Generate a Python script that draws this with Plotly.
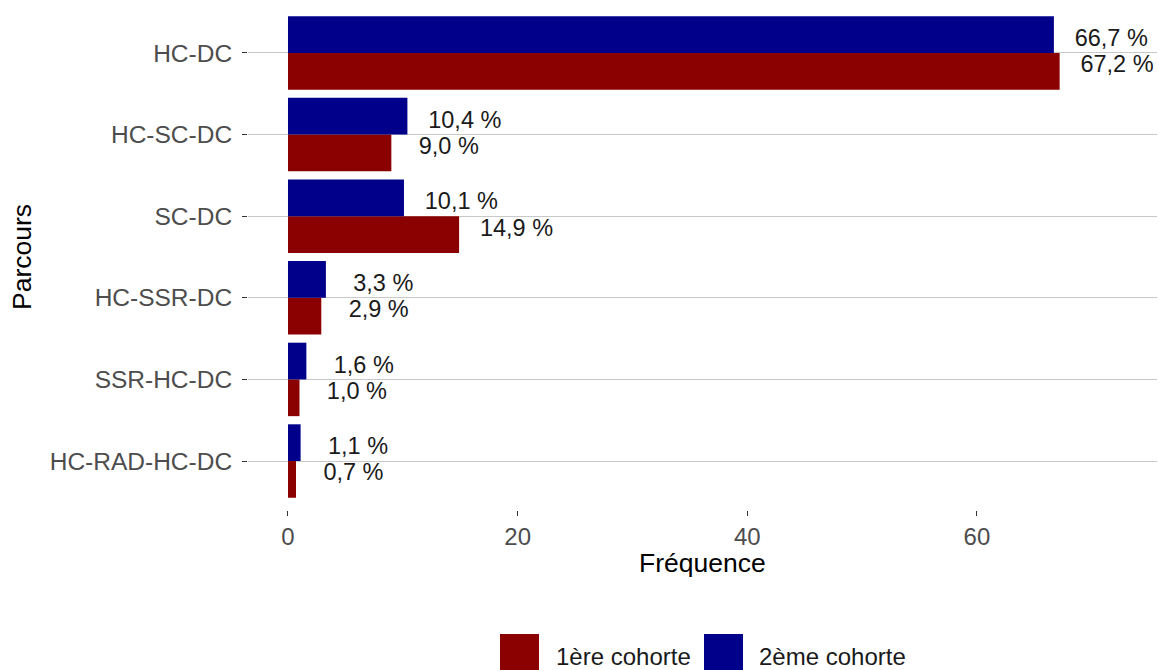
import plotly.graph_objects as go

categories = ["HC-DC", "HC-SC-DC", "SC-DC", "HC-SSR-DC", "SSR-HC-DC", "HC-RAD-HC-DC"]
cohort1 = [67.2, 9.0, 14.9, 2.9, 1.0, 0.7]
cohort2 = [66.7, 10.4, 10.1, 3.3, 1.6, 1.1]
series_names = ["1ère cohorte", "2ème cohorte"]
colors = ["#8B0000", "#00008B"]
x_ticks = [0, 20, 40, 60]

FONT = "Liberation Sans, Arial, sans-serif"
n = len(categories)
pos = [n - i for i in range(n)]

def fmt(v):
    return f"{v:.1f}".replace(".", ",") + " %"

fig = go.Figure()
for name, vals, col in zip(series_names, [cohort1, cohort2], colors):
    fig.add_trace(go.Bar(y=pos, x=vals, orientation="h", name=name,
                         marker=dict(color=col, line=dict(width=0)),
                         showlegend=False, hoverinfo="skip"))

# value labels
fig.add_trace(go.Scatter(x=[v + 5 for v in cohort2], y=[p + 0.155 for p in pos],
                         mode="text", text=[fmt(v) for v in cohort2],
                         textposition="middle center",
                         textfont=dict(family=FONT, size=23.5, color="#1a1a1a"),
                         showlegend=False, hoverinfo="skip"))
fig.add_trace(go.Scatter(x=[v + 5 for v in cohort1], y=[p - 0.165 for p in pos],
                         mode="text", text=[fmt(v) for v in cohort1],
                         textposition="middle center",
                         textfont=dict(family=FONT, size=23.5, color="#1a1a1a"),
                         showlegend=False, hoverinfo="skip"))

W, H = 1159, 670
L, R, T, B = 248, 2, 4, 160
pw, ph = W - L - R, H - T - B

def px(x):
    return (x - L) / pw

def py(y):
    return (H - B - y) / ph

shapes = []
annotations = []
# manual legend
leg_items = [(500, 556), (704, 759)]
for (kx, tx), name, col in zip(leg_items, series_names, colors):
    shapes.append(dict(type="rect", xref="paper", yref="paper",
                       x0=px(kx), x1=px(kx + 39), y0=py(672), y1=py(634),
                       fillcolor=col, line=dict(width=0)))
    annotations.append(dict(xref="paper", yref="paper", x=px(tx - 2), y=py(656),
                            xanchor="left", yanchor="middle", text=name, showarrow=False,
                            font=dict(family=FONT, size=24, color="#1a1a1a")))

annotations.append(dict(xref="paper", yref="paper", x=0.5, y=py(563),
                        xanchor="center", yanchor="middle", text="Fréquence", showarrow=False,
                        font=dict(family=FONT, size=26.5, color="black")))
annotations.append(dict(xref="paper", yref="paper", x=px(22), y=0.5,
                        xanchor="center", yanchor="middle", text="Parcours", showarrow=False,
                        textangle=-90, font=dict(family=FONT, size=26.5, color="black")))

fig.update_layout(
    width=W, height=H,
    margin=dict(l=L, r=R, t=T, b=B, pad=0),
    paper_bgcolor="white", plot_bgcolor="white",
    barmode="group", bargap=0.1, bargroupgap=0,
    shapes=shapes, annotations=annotations,
    xaxis=dict(range=[-3.483, 75.68], tickvals=x_ticks, ticks="outside", ticklen=5,
               tickcolor="#333333", showgrid=False, zeroline=False, showline=False,
               tickfont=dict(family=FONT, size=24, color="#4d4d4d")),
    yaxis=dict(range=[0.4, 6.6], tickvals=pos, ticktext=categories, ticks="outside",
               ticklen=5, tickcolor="#333333", showgrid=True, gridcolor="#c8c8c8",
               gridwidth=1, zeroline=False, showline=False, ticklabelstandoff=5,
               tickfont=dict(family=FONT, size=24.5, color="#4d4d4d")),
)

fig.write_html("out.html", config={"displayModeBar": False},
               post_script="document.body.style.margin='0';document.body.style.padding='0';document.body.style.overflow='hidden';")
